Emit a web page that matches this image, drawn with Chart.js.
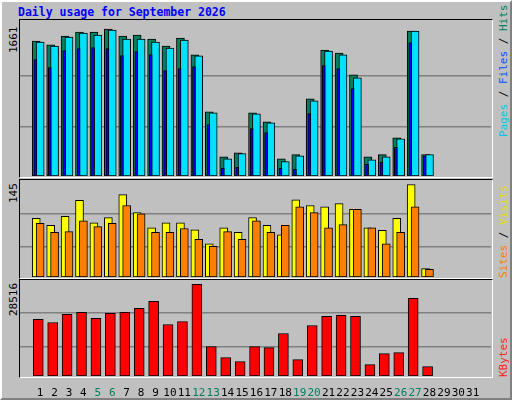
<!DOCTYPE html>
<html><head><meta charset="utf-8">
<script src="https://cdn.jsdelivr.net/npm/chart.js@4/dist/chart.umd.min.js"></script>
<style>
body{margin:0;background:#fff}
#frame{position:absolute;left:0;top:0;width:508px;height:396px;background:#c0c0c0;border:2px solid;border-color:#fff #808080 #808080 #fff}
.panel{position:absolute;border:1px solid;border-color:#000 #fff #fff #000;box-sizing:content-box}
.txt{position:absolute;font-family:"DejaVu Sans Mono",monospace;font-size:11px;white-space:nowrap}
.rot{transform-origin:0 0;transform:rotate(-90deg)}
</style></head><body>
<div id="frame"></div>
<div class="txt" style="left:18px;top:5px;color:#0000ff;font-weight:bold;font-size:11.5px">Daily usage for September 2026</div>
<div class="panel" style="left:19px;top:19px;width:472px;height:157px"></div>
<div style="position:absolute;left:20px;top:20px;width:471px;height:156px"><canvas id="c1"></canvas></div>
<div class="panel" style="left:19px;top:179px;width:472px;height:98px"></div>
<div style="position:absolute;left:20px;top:180px;width:471px;height:97px"><canvas id="c2"></canvas></div>
<div class="panel" style="left:19px;top:279px;width:472px;height:97px"></div>
<div style="position:absolute;left:20px;top:280px;width:471px;height:120px"><canvas id="c3"></canvas></div>
<div class="txt rot" style="left:7px;top:53px;color:#000">1661</div>
<div class="txt rot" style="left:7px;top:203px;color:#000">145</div>
<div class="txt rot" style="left:7px;top:316px;color:#000">28516</div>
<div class="txt rot" style="left:497px;top:137px"><span style="color:#00c8e0">Pages</span><span style="color:#000"> / </span><span style="color:#0050ff">Files</span><span style="color:#000"> / </span><span style="color:#008060">Hits</span></div>
<div class="txt rot" style="left:497px;top:278px"><span style="color:#ff8000">Sites</span><span style="color:#000"> / </span><span style="color:#e0e000">Visits</span></div>
<div class="txt rot" style="left:497px;top:377px;color:#ff2020">KBytes</div>
<script>
const days=[1,2,3,4,5,6,7,8,9,10,11,12,13,14,15,16,17,18,19,20,21,22,23,24,25,26,27,28,29,30,31];
const weekend=[5,6,12,13,19,20,26,27];
const hits=[1526,1481,1582,1627,1627,1661,1582,1593,1548,1469,1560,1368,725,218,263,714,613,195,241,872,1424,1390,1142,218,241,432,1638,241,0,0,0];
const files=[1514,1469,1571,1616,1593,1650,1548,1548,1514,1447,1537,1357,714,195,252,703,601,162,229,849,1413,1368,1109,184,218,421,1638,241,0,0,0];
const pages=[1315,1225,1417,1439,1451,1439,1360,1405,1372,1191,1214,1236,582,86,98,537,492,86,75,706,1248,1214,988,132,154,323,1507,229,0,0,0];
const sites=[92,81,95,120,85,93,129,101,77,85,85,74,52,77,70,93,81,66,121,112,110,115,106,77,73,92,145,13,0,0,0];
const visits=[84,70,71,88,79,84,112,99,70,70,76,59,48,71,59,88,70,81,110,101,77,82,106,77,52,70,110,12,0,0,0];
const kbytes=[17588,16651,19149,19773,17900,19461,19773,21022,23208,16027,16963,28516,9158,5724,4475,9158,8846,13217,5099,15715,18524,18837,18524,3538,6973,7285,24144,2914,0,0,0];

const xs=(arr,off)=>arr.map((v,i)=>({x:days[i]+off,y:v}));
function xAxis(show){const a={type:'linear',min:0.13,max:31.74,display:show,
  grid:{display:false},border:{display:false},
  afterBuildTicks:s=>{s.ticks=days.map(d=>({value:d}));},
  ticks:{autoSkip:false,maxRotation:0,padding:3,font:{family:'DejaVu Sans Mono',size:11},
    color:c=>weekend.includes(c.tick.value)?'#008060':'#000',callback:v=>String(v)}};
  a.afterFit=s=>{s.height=show?24:0;};
  return a;}
function yAxis(max,grid){return {min:0,max:max,display:true,position:'left',
  afterFit:s=>{s.width=0;},
  afterBuildTicks:s=>{s.ticks=grid.map(v=>({value:v}));},
  ticks:{display:false},border:{display:false},
  grid:{color:'#808080',lineWidth:1.5,drawTicks:false}};}
function ds(data,color,w){return {data:data,backgroundColor:color,borderColor:'#000',borderWidth:1,barThickness:w,borderSkipped:false,grouped:false};}
const base={responsive:false,animation:false,events:[],
  plugins:{legend:{display:false},tooltip:{enabled:false}},layout:{padding:0}};
Chart.defaults.font.family='DejaVu Sans Mono';

function mk(id,w,h,datasets,ymax,grid,showX){
  const c=document.getElementById(id);c.width=w;c.height=h;
  new Chart(c,{type:'bar',data:{datasets:datasets},
    options:Object.assign({},base,{scales:{x:xAxis(showX),y:yAxis(ymax,grid)}})});
}
mk('c1',471,156,[ds(xs(pages,-0.33),'#0000ff',3),ds(xs(files,0),'#00e0ff',8),ds(xs(hits,-0.27),'#008060',8)],1763,[554,1130],false);
mk('c2',471,97,[ds(xs(visits,0),'#ff8000',8),ds(xs(sites,-0.27),'#ffff00',8)],152,[47.7,99.5],false);
mk('c3',471,120,[ds(xs(kbytes,-0.13),'#ff0000',10)],29858,[9172,19562],true);
</script>
</body></html>
